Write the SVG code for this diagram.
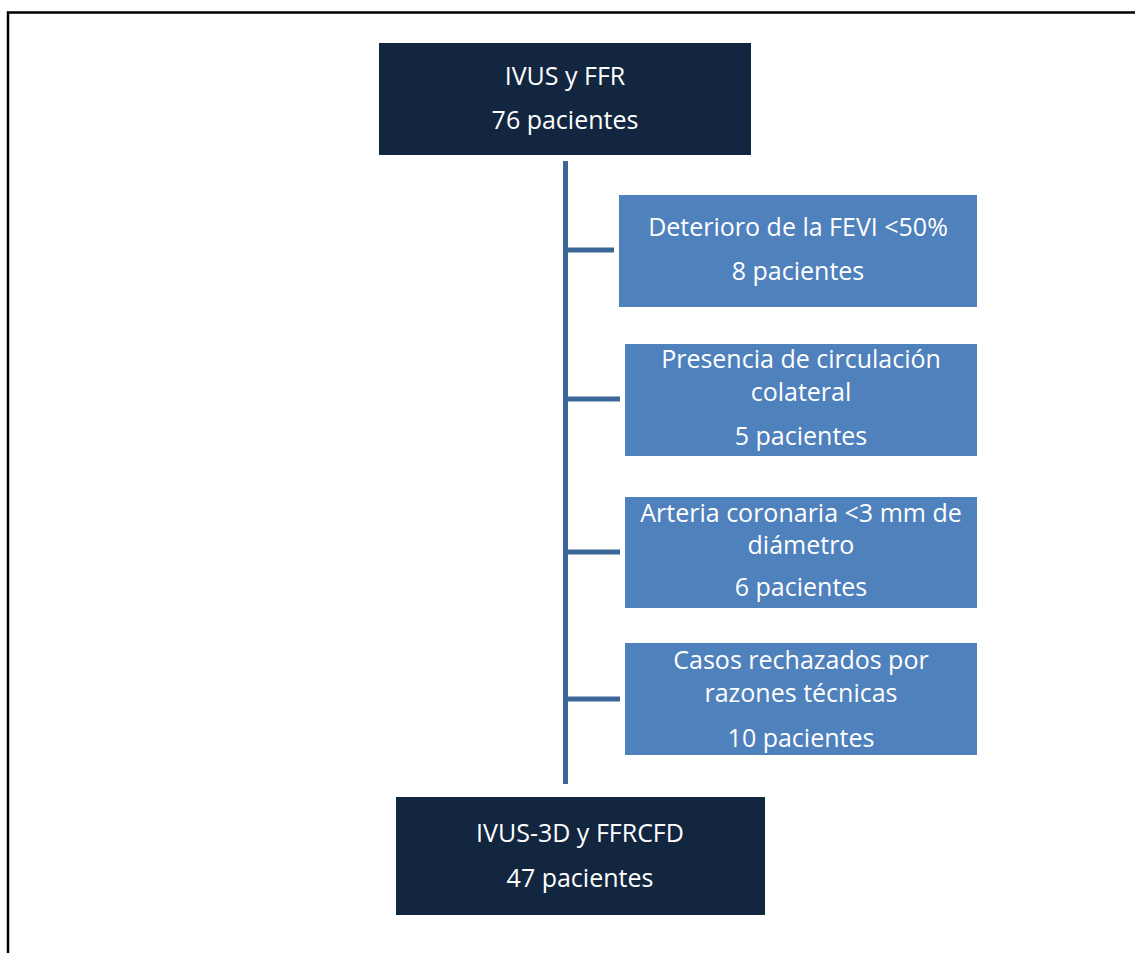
<svg xmlns="http://www.w3.org/2000/svg" width="1135" height="953" viewBox="0 0 1135 953">
<style>
.dark{fill:#12263F}
.blue{fill:#4F81BD}
.t{font-family:"Open Sans","Liberation Sans",sans-serif;font-size:25px;fill:#FFFFFF;text-anchor:middle}
.c{stroke:#3D6698;stroke-width:5;fill:none}
</style>
<rect x="0" y="0" width="1135" height="953" fill="#FFFFFF"/>
<rect x="8" y="12.5" width="1140" height="960" fill="none" stroke="#000000" stroke-width="2.5"/>
<g id="connectors">
<line class="c" x1="565.5" y1="161" x2="565.5" y2="784"/>
<line class="c" x1="565.5" y1="250" x2="614" y2="250"/>
<line class="c" x1="565.5" y1="399" x2="620" y2="399"/>
<line class="c" x1="565.5" y1="552" x2="620" y2="552"/>
<line class="c" x1="565.5" y1="699" x2="620" y2="699"/>
</g>
<g id="n-top">
<rect class="dark" x="379" y="43" width="372" height="112"/>
<text class="t" x="565" y="85">IVUS y FFR</text>
<text class="t" x="565" y="129">76 pacientes</text>
</g>
<g id="n-fevi">
<rect class="blue" x="619" y="195" width="358" height="112"/>
<text class="t" x="798" y="236">Deterioro de la FEVI &lt;50%</text>
<text class="t" x="798" y="280">8 pacientes</text>
</g>
<g id="n-colateral">
<rect class="blue" x="625" y="344" width="352" height="112"/>
<text class="t" x="801" y="368">Presencia de circulación</text>
<text class="t" x="801" y="401">colateral</text>
<text class="t" x="801" y="445">5 pacientes</text>
</g>
<g id="n-arteria">
<rect class="blue" x="625" y="497" width="352" height="111"/>
<text class="t" x="801" y="522">Arteria coronaria &lt;3 mm de</text>
<text class="t" x="801" y="554">diámetro</text>
<text class="t" x="801" y="596">6 pacientes</text>
</g>
<g id="n-casos">
<rect class="blue" x="625" y="643" width="352" height="112"/>
<text class="t" x="801" y="669">Casos rechazados por</text>
<text class="t" x="801" y="702">razones técnicas</text>
<text class="t" x="801" y="747">10 pacientes</text>
</g>
<g id="n-bottom">
<rect class="dark" x="396" y="797" width="369" height="118"/>
<text class="t" x="580" y="842">IVUS-3D y FFRCFD</text>
<text class="t" x="580" y="887">47 pacientes</text>
</g>
</svg>
